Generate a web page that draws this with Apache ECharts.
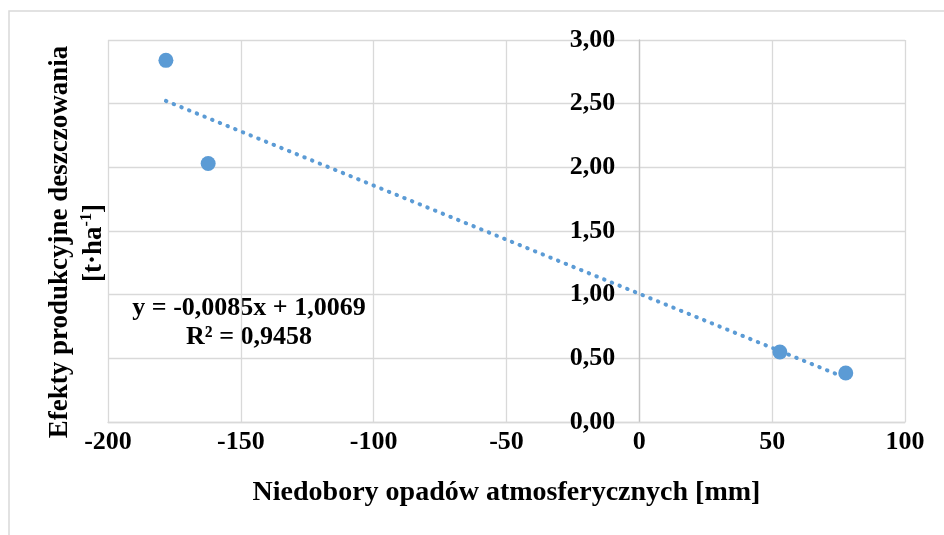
<!DOCTYPE html>
<html>
<head>
<meta charset="utf-8">
<script src="https://cdn.jsdelivr.net/npm/echarts@6/dist/echarts.min.js"></script>
<style>
html,body{margin:0;padding:0;background:#fff;}
#c{width:944px;height:535px;}
</style>
</head>
<body>
<div id="c"></div>
<script>
// Data
const deficitX = [-178.2, -162.3, 52.9, 77.7];      // Niedobory opadów [mm]
const effectY  = [2.84, 2.03, 0.55, 0.385];          // Efekty produkcyjne [t/ha]
const trendSlope = -0.0085;
const trendIntercept = 1.0069;
const trendR2 = '0,9458';
const xTicks = {min: -200, max: 100, interval: 50};
const yTicks = {min: 0, max: 3, interval: 0.5};

const points = deficitX.map((x, i) => [x, effectY[i]]);
const xs = deficitX.slice().sort((a, b) => a - b);
const trendData = [xs[0], xs[xs.length - 1]].map(x => [x, trendSlope * x + trendIntercept]);
const fmt = (v, d) => v.toFixed(d).replace('.', ',');
const eqLine1 = 'y = ' + fmt(trendSlope, 4) + 'x + ' + fmt(trendIntercept, 4);
const eqLine2 = 'R² = ' + trendR2;

const FONT = "'Liberation Serif', 'Times New Roman', serif";
const BLUE = '#5B9BD5';
const GRID = '#d9d9d9';

const W = 944, GL = 108, GR = 39;
const gridW = W - GL - GR;
// y axis sits on x = 0: shift it inside the grid
const yOffset = -((0 - xTicks.min) / (xTicks.max - xTicks.min)) * gridW;

const chart = echarts.init(document.getElementById('c'), null, {renderer: 'canvas'});
chart.setOption({
  backgroundColor: '#fff',
  animation: false,
  grid: {left: GL, right: GR, top: 40, bottom: 113, containLabel: false},
  xAxis: {
    type: 'value',
    min: xTicks.min, max: xTicks.max, interval: xTicks.interval,
    axisLine: {show: true, onZero: true, lineStyle: {color: GRID, width: 1.3}},
    axisTick: {show: false},
    splitLine: {show: true, lineStyle: {color: GRID, width: 1.3}},
    axisLabel: {
      color: '#000', fontFamily: FONT, fontWeight: 'bold', fontSize: 26, margin: 7,
      formatter: v => String(v)
    },
    name: 'Niedobory opadów atmosferycznych [mm]',
    nameLocation: 'middle', nameGap: 57,
    nameTextStyle: {color: '#000', fontFamily: FONT, fontWeight: 'bold', fontSize: 28}
  },
  yAxis: {
    type: 'value',
    min: yTicks.min, max: yTicks.max, interval: yTicks.interval,
    offset: yOffset,
    axisLine: {show: true, onZero: false, lineStyle: {color: '#c4c4c4', width: 1.3}},
    axisTick: {show: false},
    splitLine: {show: true, lineStyle: {color: GRID, width: 1.3}},
    axisLabel: {
      color: '#000', fontFamily: FONT, fontWeight: 'bold', fontSize: 26, margin: 24,
      formatter: v => fmt(v, 2)
    }
  },
  series: [
    {
      type: 'line',
      data: trendData,
      showSymbol: false,
      symbol: 'none',
      z: 2,
      lineStyle: {color: BLUE, width: 4, type: [0.5, 7.8], cap: 'round'}
    },
    {
      type: 'scatter',
      data: points,
      symbolSize: 15,
      z: 3,
      itemStyle: {color: BLUE, opacity: 1}
    }
  ],
  graphic: [
    {
      type: 'rect', silent: true, z: -1,
      shape: {x: 9, y: 11, width: 1200, height: 1000},
      style: {fill: 'none', stroke: GRID, lineWidth: 1.5}
    },
    {
      type: 'text', x: 60, y: 242, rotation: Math.PI / 2,
      style: {
        text: 'Efekty produkcyjne deszczowania',
        font: 'bold 27px ' + FONT, fill: '#000', align: 'center', verticalAlign: 'middle'
      }
    },
    {
      type: 'text', x: 93, y: 243, rotation: Math.PI / 2,
      style: {
        text: '{a|[t·ha}{s|-1}{a|]}',
        font: 'bold 27px ' + FONT, fill: '#000', align: 'center', verticalAlign: 'middle',
        rich: {
          a: {fontFamily: FONT, fontWeight: 'bold', fontSize: 27, lineHeight: 29, verticalAlign: 'bottom'},
          s: {fontFamily: FONT, fontWeight: 'bold', fontSize: 16, lineHeight: 29, verticalAlign: 'top'}
        }
      }
    },
    {
      type: 'text', x: 249, y: 308,
      style: {text: eqLine1, font: 'bold 26px ' + FONT, fill: '#000', align: 'center', verticalAlign: 'middle'}
    },
    {
      type: 'text', x: 249, y: 337,
      style: {text: eqLine2, font: 'bold 26px ' + FONT, fill: '#000', align: 'center', verticalAlign: 'middle'}
    }
  ]
});
</script>
</body>
</html>
